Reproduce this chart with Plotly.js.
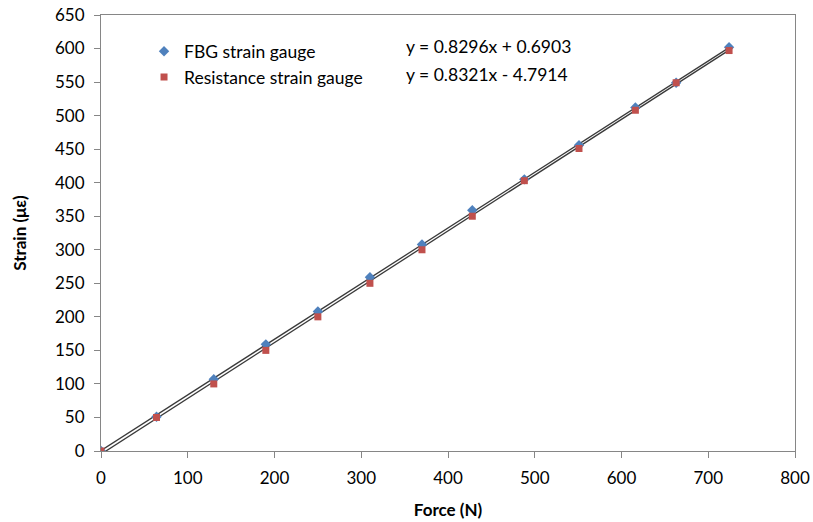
<!DOCTYPE html>
<html>
<head>
<meta charset="utf-8">
<script src="https://cdn.plot.ly/plotly-3.0.1.min.js"></script>
<style>html,body{margin:0;padding:0;background:#fff;}#chart{width:813px;height:522px;}</style>
</head>
<body>
<div id="chart"></div>
<script>
const force = [0, 64, 130, 190, 250, 310, 370, 428, 488, 551, 616, 663, 724];
const fbgStrain = [0, 51, 107, 159, 208, 259, 308, 359, 405, 456, 512, 549, 602];
const resStrain = [0, 50, 100, 150, 200, 250, 300, 350, 403, 451, 508, 549, 597];
const seriesNames = ["FBG strain gauge", "Resistance strain gauge"];
const slopes = [0.8296, 0.8321];
const intercepts = [0.6903, -4.7914];
const equations = ["y = 0.8296x + 0.6903", "y = 0.8321x - 4.7914"];
const xTicks = [0, 100, 200, 300, 400, 500, 600, 700, 800];
const yTicks = [0, 50, 100, 150, 200, 250, 300, 350, 400, 450, 500, 550, 600, 650];

const xMin = force[0], xMax = force[force.length - 1];
const trend = (i) => ({
  x: [xMin, xMax],
  y: [slopes[i] * xMin + intercepts[i], slopes[i] * xMax + intercepts[i]],
  mode: 'lines', type: 'scatter', showlegend: false, hoverinfo: 'skip',
  line: {color: '#3a3a3a', width: 1.3}
});

const data = [
  trend(0), trend(1),
  {x: force, y: fbgStrain, name: seriesNames[0], mode: 'markers', type: 'scatter', legendgroup: 'a',
   marker: {symbol: 'diamond', size: 8, color: '#4F81BD'}},
  {x: force, y: resStrain, name: seriesNames[1], mode: 'markers', type: 'scatter', legendgroup: 'b',
   marker: {symbol: 'square', size: 7, color: '#C0504D'}}
];

const fontFam = 'Lato, "Open Sans", sans-serif';
const layout = {
  width: 813, height: 522,
  margin: {l: 101, r: 18, t: 15, b: 71},
  paper_bgcolor: '#fff', plot_bgcolor: '#fff',
  font: {family: fontFam, size: 17, color: '#000'},
  showlegend: true,
  legend: {x: 0.062, y: 0.958, xanchor: 'left', yanchor: 'top', bgcolor: 'rgba(0,0,0,0)',
           font: {size: 17.5}, traceorder: 'grouped', tracegroupgap: 0, itemwidth: 30},
  xaxis: {range: [0, 800], tickvals: xTicks, ticktext: xTicks.map(String), showgrid: false, zeroline: false,
          showline: true, linecolor: '#868686', linewidth: 1, mirror: true, ticks: 'outside', ticklen: 6,
          tickcolor: '#868686', tickfont: {size: 17}, ticklabelstandoff: 6,
          title: {text: '<b>Force (N)</b>', font: {size: 17}, standoff: 16}},
  yaxis: {range: [0, 650], tickvals: yTicks, ticktext: yTicks.map(String), showgrid: false, zeroline: false,
          showline: true, linecolor: '#868686', linewidth: 1, mirror: true, ticks: 'outside', ticklen: 6,
          tickcolor: '#868686', tickfont: {size: 17}, ticklabelstandoff: 6,
          title: {text: '<b>Strain (με)</b>', font: {size: 17}, standoff: 24}},
  annotations: [
    {text: equations[0], xref: 'paper', yref: 'paper', x: 0.559, y: 0.928, xanchor: 'center', yanchor: 'middle',
     showarrow: false, font: {size: 17.5}},
    {text: equations[1], xref: 'paper', yref: 'paper', x: 0.556, y: 0.863, xanchor: 'center', yanchor: 'middle',
     showarrow: false, font: {size: 17.5}}
  ]
};

Plotly.newPlot('chart', data, layout, {displayModeBar: false, staticPlot: true});
</script>
</body>
</html>
